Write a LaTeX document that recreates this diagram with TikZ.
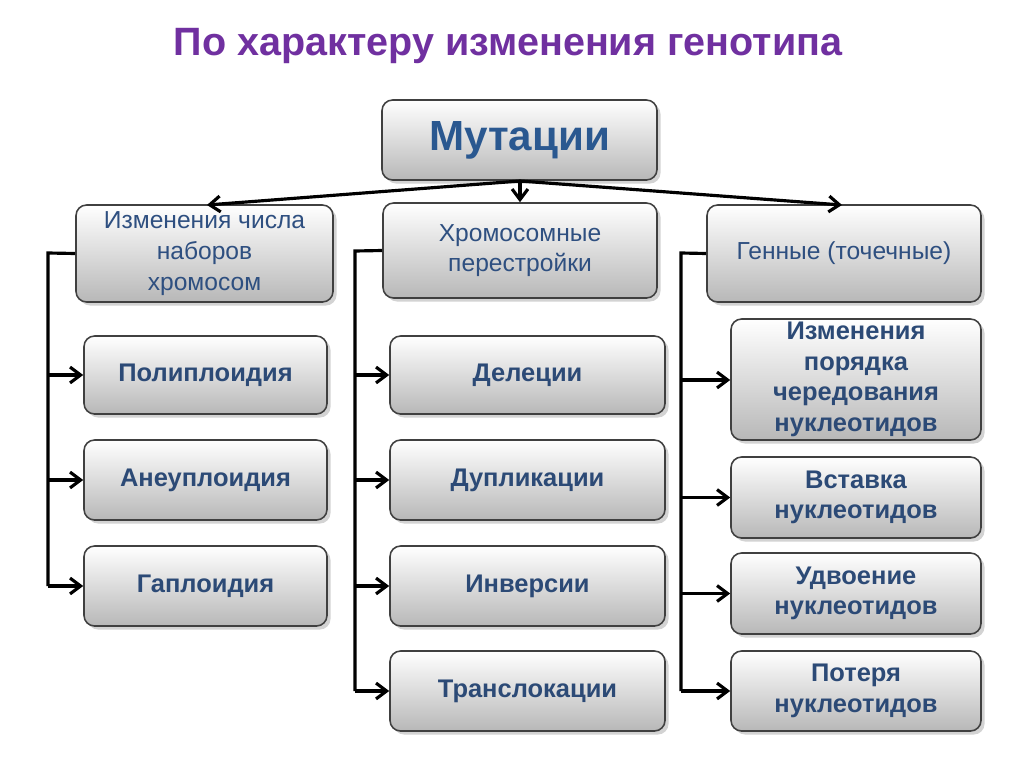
\documentclass[tikz,border=0pt]{standalone}
\usepackage{fontspec}
\setmainfont{Liberation Sans}
\usetikzlibrary{shadows,arrows.meta}
\definecolor{tblue}{HTML}{2C4A76}
\definecolor{hblue}{HTML}{2E4F80}
\definecolor{mblue}{HTML}{2A5890}
\definecolor{tpurple}{HTML}{7030A0}
\tikzset{
 bx/.style={draw=black!75,line width=0.9pt,rounded corners=6pt,top color=white,bottom color=black!28,
   drop shadow={shadow xshift=2pt,shadow yshift=-2pt,opacity=0.35},align=center,inner sep=0pt},
 itm/.style={bx,font=\fontsize{14.5}{17.5}\selectfont\bfseries,text=tblue},
 hdr/.style={bx,font=\fontsize{14}{17.5}\selectfont,text=hblue},
 ar/.style={-{Straight Barb[length=6pt,width=9pt]},line width=1.8pt},
 ln/.style={line width=1.8pt}
}
\newcommand{\bxat}[6]{\node[#1,minimum width={(#4-#2)*0.02cm},minimum height={(#5-#3)*0.02cm}] (#6) at ({(#2+#4)/2},{(#3+#5)/2})}
\begin{document}
\begin{tikzpicture}[x=0.02cm,y=-0.02cm]
\useasboundingbox (0,0) rectangle (1024,767);
\node[font=\fontsize{22.5}{26}\selectfont\bfseries,text=tpurple] (title) at (508,46) {По характеру изменения генотипа};
\bxat{itm}{382}{100}{657}{180}{m}{\fontsize{24}{28}\selectfont\bfseries\color{mblue}Мутации};
\bxat{hdr}{76}{205}{333}{302}{h1}{Изменения числа\\наборов\\хромосом};
\bxat{hdr}{383}{203}{657}{298}{h2}{Хромосомные\\перестройки};
\bxat{hdr}{707}{205}{981}{302}{h3}{Генные (точечные)};
\bxat{itm}{84}{336}{327}{414}{a1}{Полиплоидия};
\bxat{itm}{84}{440}{327}{520}{a2}{Анеуплоидия};
\bxat{itm}{84}{546}{327}{626}{a3}{Гаплоидия};
\bxat{itm}{390}{336}{665}{414}{b1}{Делеции};
\bxat{itm}{390}{440}{665}{520}{b2}{Дупликации};
\bxat{itm}{390}{546}{665}{626}{b3}{Инверсии};
\bxat{itm}{390}{651}{665}{731}{b4}{Транслокации};
\bxat{itm}{731}{319}{981}{440}{c1}{Изменения\\порядка\\чередования\\нуклеотидов};
\bxat{itm}{731}{457}{981}{538}{c2}{Вставка\\нуклеотидов};
\bxat{itm}{731}{553}{981}{634}{c3}{Удвоение\\нуклеотидов};
\bxat{itm}{731}{651}{981}{731}{c4}{Потеря\\нуклеотидов};
\coordinate (top) at (520,181);
\draw[ar] (top) -- (207,205);
\draw[ar] (top) -- (h2.north);
\draw[ar] (top) -- (842,205);
\coordinate (k1) at (48,253);
\draw[ln] (h1.west) -- (k1) -- (48,586);
\foreach \n in {a1,a2,a3} \draw[ar] (k1 |- \n.west) -- (\n.west);
\coordinate (k2) at (355,251);
\draw[ln] (h2.west) -- (k2) -- (355,691);
\foreach \n in {b1,b2,b3,b4} \draw[ar] (k2 |- \n.west) -- (\n.west);
\coordinate (k3) at (681,253);
\draw[ln] (h3.west) -- (k3) -- (681,691);
\foreach \n in {c2,c3,c4} \draw[ar] (k3 |- \n.west) -- (\n.west);
\draw[ar] (681,380) -- (c1.west |- 0,380);
\end{tikzpicture}
\end{document}
